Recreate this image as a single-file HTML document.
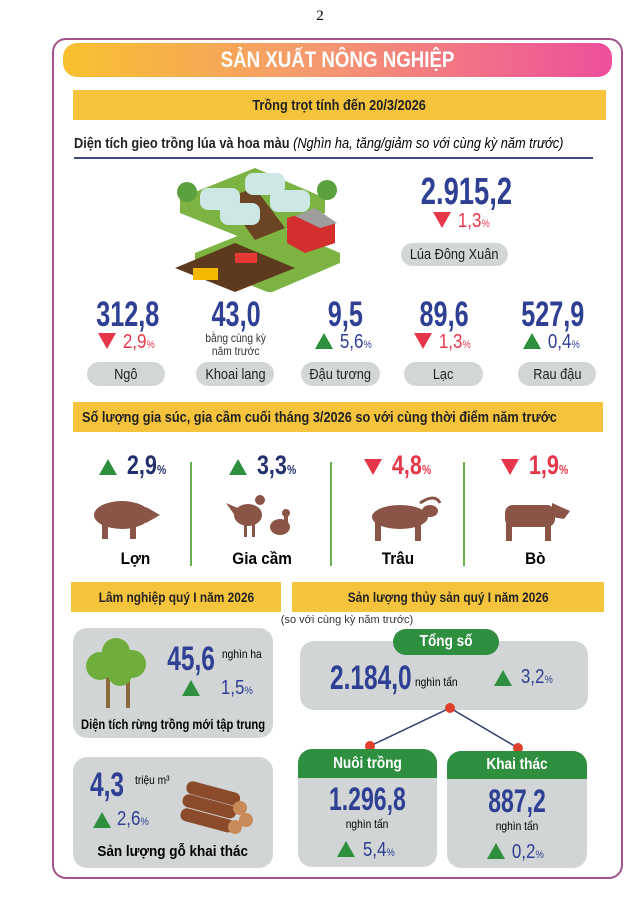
<!DOCTYPE html>
<html><head><meta charset="utf-8"><style>
*{margin:0;padding:0;box-sizing:border-box}
body{width:640px;height:905px;background:#fff;position:relative;overflow:hidden;font-family:"Liberation Sans",sans-serif}
.a{position:absolute}
.c{position:absolute;text-align:center;white-space:nowrap}
.num{font-weight:bold;color:#2e3f94;display:inline-block;transform:scaleX(.72);transform-origin:center}
.bar{position:absolute;background:#f6c43c;display:flex;align-items:center;justify-content:center;font-weight:bold;color:#222;font-size:15px}
.bar span{display:inline-block;transform:scaleX(.85);white-space:nowrap}
.pill{position:absolute;background:#d2d6d6;border-radius:13px;display:flex;align-items:center;justify-content:center;font-size:15px;color:#222}
.pill span{display:inline-block;transform:scaleX(.85)}
.box{position:absolute;background:#d1d5d5;border-radius:14px}
.up{display:inline-block;width:0;height:0;border-left:9px solid transparent;border-right:9px solid transparent;border-bottom:16px solid #2e8f3f;vertical-align:-1px}
.dn{display:inline-block;width:0;height:0;border-left:9px solid transparent;border-right:9px solid transparent;border-top:16px solid #e6374a;vertical-align:-1px}
.pct{font-size:20px;display:inline-block;transform:scaleX(.85)}
.pct small{font-size:11px}
.b{color:#2e3f94}.r{color:#e6374a}
.gh{position:absolute;background:#2e8f3f;color:#fff;font-weight:bold;display:flex;align-items:center;justify-content:center;font-size:16px}
</style></head><body>
<div class="c" style="left:300px;top:8px;width:40px;font-family:'Liberation Serif',serif;font-size:15px">2</div>
<div class="a" style="left:52px;top:38px;width:571px;height:841px;border:2px solid #a0528a;border-radius:14px"></div>
<div class="a" style="left:63px;top:43px;width:549px;height:34px;border-radius:14px;background:linear-gradient(90deg,#f8c12e,#f59a6e 45%,#ee4f9c);display:flex;align-items:center;justify-content:center;color:#fff;font-weight:bold;font-size:22px"><span style="display:inline-block;transform:scaleX(.85)">SẢN XUẤT NÔNG NGHIỆP</span></div>
<div class="bar" style="left:73px;top:90px;width:533px;height:30px"><span>Trồng trọt tính đến 20/3/2026</span></div>
<div class="a" style="left:74px;top:136px;font-size:14.5px;white-space:nowrap;transform:scaleX(.88);transform-origin:left"><b style="font-weight:bold;color:#222">Diện tích gieo trồng lúa và hoa màu</b> <i>(Nghìn ha, tăng/giảm so với cùng kỳ năm trước)</i></div>
<div class="a" style="left:74px;top:157px;width:519px;height:2px;background:#3e4e7a"></div>
<svg class="a" style="left:175px;top:168px" width="172" height="124" viewBox="0 0 172 124">
<polygon points="5,30 80,0 150,30 150,45 80,75 5,45" fill="#7cb342"/>
<polygon points="20,85 95,55 165,85 165,95 95,125 20,95" fill="#7cb342"/>
<polygon points="0,100 60,75 120,100 60,124" fill="#5d3a1e"/>
<polygon points="50,30 80,20 110,60 80,72" fill="#6b4423"/>
<rect x="25" y="20" width="40" height="22" rx="8" fill="#cde8e4"/><rect x="70" y="5" width="40" height="22" rx="8" fill="#cde8e4"/>
<rect x="45" y="35" width="40" height="22" rx="8" fill="#cde8e4"/><rect x="95" y="22" width="40" height="22" rx="8" fill="#cde8e4"/>
<circle cx="12" cy="24" r="10" fill="#5aa13e"/><circle cx="152" cy="22" r="10" fill="#5aa13e"/>
<polygon points="112,50 140,42 160,55 160,75 130,85 112,75" fill="#d32f2f"/><polygon points="120,48 140,40 162,55 145,60" fill="#9e9e9e"/>
<rect x="18" y="100" width="25" height="12" fill="#f5b800"/><rect x="60" y="85" width="22" height="10" fill="#e53935"/>
</svg>
<div class="c" style="left:403px;top:172px;width:120px;font-size:38px;line-height:40px"><span class="num">2.915,2</span></div>
<div class="c" style="left:413px;top:210px;width:100px"><span class="dn"></span> <span class="pct r">1,3<small>%</small></span></div>
<div class="pill" style="left:401px;top:243px;width:107px;height:23px"><span>Lúa Đông Xuân</span></div>
<div class="c" style="left:78px;top:297px;width:100px;font-size:35px;line-height:36px"><span class="num">312,8</span></div>
<div class="c" style="left:186px;top:297px;width:100px;font-size:35px;line-height:36px"><span class="num">43,0</span></div>
<div class="c" style="left:295px;top:297px;width:100px;font-size:35px;line-height:36px"><span class="num">9,5</span></div>
<div class="c" style="left:394px;top:297px;width:100px;font-size:35px;line-height:36px"><span class="num">89,6</span></div>
<div class="c" style="left:503px;top:297px;width:100px;font-size:35px;line-height:36px"><span class="num">527,9</span></div>
<div class="c" style="left:78px;top:331px;width:100px"><span class="dn"></span> <span class="pct r">2,9<small>%</small></span></div>
<div class="c" style="left:186px;top:332px;width:100px;font-size:12px;line-height:13px;color:#333"><span style="display:inline-block;transform:scaleX(.85)">bằng cùng kỳ<br>năm trước</span></div>
<div class="c" style="left:295px;top:331px;width:100px"><span class="up"></span> <span class="pct b">5,6<small>%</small></span></div>
<div class="c" style="left:394px;top:331px;width:100px"><span class="dn"></span> <span class="pct r">1,3<small>%</small></span></div>
<div class="c" style="left:503px;top:331px;width:100px"><span class="up"></span> <span class="pct b">0,4<small>%</small></span></div>
<div class="pill" style="left:87px;top:362px;width:78px;height:24px"><span>Ngô</span></div>
<div class="pill" style="left:196px;top:362px;width:78px;height:24px"><span>Khoai lang</span></div>
<div class="pill" style="left:301px;top:362px;width:79px;height:24px"><span>Đậu tương</span></div>
<div class="pill" style="left:404px;top:362px;width:79px;height:24px"><span>Lạc</span></div>
<div class="pill" style="left:518px;top:362px;width:78px;height:24px"><span>Rau đậu</span></div>
<div class="bar" style="left:73px;top:402px;width:530px;height:30px;justify-content:flex-start;padding-left:9px"><span style="transform-origin:left">Số lượng gia súc, gia cầm cuối tháng 3/2026 so với cùng thời điểm năm trước</span></div>
<div class="a" style="left:190px;top:462px;width:2px;height:104px;background:#6ab04c"></div>
<div class="a" style="left:330px;top:462px;width:2px;height:104px;background:#6ab04c"></div>
<div class="a" style="left:463px;top:462px;width:2px;height:104px;background:#6ab04c"></div>
<div class="c" style="left:85px;top:450px;width:100px"><span class="up"></span> <span class="num" style="font-size:27px;color:#24306e;transform:scaleX(.8)">2,9<small style="font-size:13px">%</small></span></div>
<div class="c" style="left:215px;top:450px;width:100px"><span class="up"></span> <span class="num" style="font-size:27px;color:#24306e;transform:scaleX(.8)">3,3<small style="font-size:13px">%</small></span></div>
<div class="c" style="left:350px;top:450px;width:100px"><span class="dn"></span> <span class="num" style="font-size:27px;color:#e6374a;transform:scaleX(.8)">4,8<small style="font-size:13px">%</small></span></div>
<div class="c" style="left:487px;top:450px;width:100px"><span class="dn"></span> <span class="num" style="font-size:27px;color:#e6374a;transform:scaleX(.8)">1,9<small style="font-size:13px">%</small></span></div>
<svg class="a" style="left:90px;top:495px" width="480" height="48" viewBox="0 0 480 48">
<g fill="#8a5446">
<ellipse cx="32" cy="20" rx="28" ry="14"/><rect x="12" y="26" width="6" height="18"/><rect x="40" y="26" width="6" height="18"/><polygon points="56,12 70,20 56,28"/>
<ellipse cx="158" cy="20" rx="14" ry="11"/><circle cx="170" cy="5" r="5"/><polygon points="136,8 150,14 146,22"/><rect x="154" y="28" width="3" height="14"/><rect x="162" y="28" width="3" height="14"/>
<ellipse cx="190" cy="32" rx="10" ry="8"/><circle cx="196" cy="18" r="4"/><rect x="194" y="18" width="4" height="10"/>
<ellipse cx="310" cy="22" rx="28" ry="12"/><rect x="285" y="26" width="6" height="20"/><rect x="325" y="26" width="6" height="20"/><ellipse cx="340" cy="16" rx="8" ry="6"/><path d="M330,8 Q345,-2 350,8" stroke="#8a5446" stroke-width="3" fill="none"/>
<rect x="415" y="10" width="50" height="22" rx="8"/><rect x="416" y="26" width="6" height="20"/><rect x="455" y="26" width="6" height="20"/><polygon points="462,8 480,16 474,24 462,22"/>
</g></svg>
<div class="c" style="left:85px;top:549px;width:100px;font-size:17px;font-weight:bold"><span style="display:inline-block;transform:scaleX(.9)">Lợn</span></div>
<div class="c" style="left:212px;top:549px;width:100px;font-size:17px;font-weight:bold"><span style="display:inline-block;transform:scaleX(.9)">Gia cầm</span></div>
<div class="c" style="left:348px;top:549px;width:100px;font-size:17px;font-weight:bold"><span style="display:inline-block;transform:scaleX(.9)">Trâu</span></div>
<div class="c" style="left:485px;top:549px;width:100px;font-size:17px;font-weight:bold"><span style="display:inline-block;transform:scaleX(.9)">Bò</span></div>
<div class="bar" style="left:71px;top:582px;width:210px;height:30px;font-size:14px"><span>Lâm nghiệp quý I năm 2026</span></div>
<div class="bar" style="left:292px;top:582px;width:312px;height:30px;font-size:14px"><span>Sản lượng thủy sản quý I năm 2026</span></div>
<div class="c" style="left:267px;top:614px;width:160px;font-size:11px;color:#333">(so với cùng kỳ năm trước)</div>
<div class="box" style="left:73px;top:628px;width:200px;height:110px"></div>
<svg class="a" style="left:80px;top:638px" width="72" height="70"><g fill="#8a6a3a"><rect x="26" y="30" width="4" height="40"/><rect x="46" y="30" width="4" height="40"/></g><g fill="#6fae3d"><circle cx="20" cy="28" r="14"/><circle cx="36" cy="14" r="14"/><circle cx="52" cy="26" r="14"/><circle cx="40" cy="36" r="12"/></g></svg>
<div class="c" style="left:158px;top:640px;width:60px;font-size:34px;line-height:38px"><span class="num">45,6</span></div>
<div class="a" style="left:222px;top:647px;font-size:12px;transform:scaleX(.85);transform-origin:left">nghìn ha</div>
<div class="a" style="left:182px;top:680px"><span class="up"></span></div>
<div class="a" style="left:218px;top:677px"><span class="pct b">1,5<small>%</small></span></div>
<div class="c" style="left:13px;top:716px;width:320px;font-size:14px;font-weight:bold"><span style="display:inline-block;transform:scaleX(.8)">Diện tích rừng trồng mới tập trung</span></div>
<div class="box" style="left:73px;top:757px;width:200px;height:111px"></div>
<div class="a" style="left:90px;top:766px;font-size:34px;line-height:38px"><span class="num" style="transform-origin:left">4,3</span></div>
<div class="a" style="left:135px;top:773px;font-size:12px;transform:scaleX(.85);transform-origin:left">triệu m³</div>
<div class="a" style="left:93px;top:812px"><span class="up"></span></div>
<div class="a" style="left:114px;top:808px"><span class="pct b">2,6<small>%</small></span></div>
<svg class="a" style="left:180px;top:780px" width="75" height="55"><g fill="#8b4a2a"><rect x="6" y="6" width="55" height="13" rx="6" transform="rotate(15 30 12)"/><rect x="2" y="20" width="55" height="13" rx="6" transform="rotate(15 30 26)"/><rect x="0" y="34" width="55" height="13" rx="6" transform="rotate(15 28 40)"/></g><g fill="#c98a5a"><circle cx="60" cy="28" r="7"/><circle cx="66" cy="40" r="7"/><circle cx="55" cy="47" r="7"/></g></svg>
<div class="c" style="left:13px;top:843px;width:320px;font-size:15px;font-weight:bold"><span style="display:inline-block;transform:scaleX(.9)">Sản lượng gỗ khai thác</span></div>
<div class="box" style="left:300px;top:641px;width:288px;height:69px"></div>
<div class="gh" style="left:393px;top:629px;width:106px;height:26px;border-radius:13px"><span style="display:inline-block;transform:scaleX(.85)">Tổng số</span></div>
<div class="a" style="left:330px;top:659px;font-size:34px;line-height:38px"><span class="num" style="transform-origin:left">2.184,0</span></div>
<div class="a" style="left:415px;top:675px;font-size:12px;transform:scaleX(.85);transform-origin:left">nghìn tấn</div>
<div class="a" style="left:494px;top:670px"><span class="up"></span></div>
<div class="a" style="left:518px;top:666px"><span class="pct b">3,2<small>%</small></span></div>
<svg class="a" style="left:360px;top:700px" width="170" height="55"><path d="M10,46 L90,8 L158,48" stroke="#2e3f6e" stroke-width="1.5" fill="none"/><circle cx="90" cy="8" r="5" fill="#e0402a"/><circle cx="10" cy="46" r="5" fill="#e0402a"/><circle cx="158" cy="48" r="5" fill="#e0402a"/></svg>
<div class="box" style="left:298px;top:749px;width:139px;height:118px;overflow:hidden"><div class="gh" style="left:0;top:0;width:139px;height:29px"><span style="display:inline-block;transform:scaleX(.85)">Nuôi trồng</span></div></div>
<div class="box" style="left:447px;top:751px;width:140px;height:117px;overflow:hidden"><div class="gh" style="left:0;top:0;width:140px;height:28px"><span style="display:inline-block;transform:scaleX(.85)">Khai thác</span></div></div>
<div class="c" style="left:298px;top:781px;width:139px;font-size:32px;line-height:36px"><span class="num">1.296,8</span></div>
<div class="c" style="left:447px;top:783px;width:140px;font-size:32px;line-height:36px"><span class="num">887,2</span></div>
<div class="c" style="left:298px;top:817px;width:139px;font-size:12px"><span style="display:inline-block;transform:scaleX(.85)">nghìn tấn</span></div>
<div class="c" style="left:447px;top:819px;width:140px;font-size:12px"><span style="display:inline-block;transform:scaleX(.85)">nghìn tấn</span></div>
<div class="c" style="left:298px;top:839px;width:139px"><span class="up"></span> <span class="pct b">5,4<small>%</small></span></div>
<div class="c" style="left:447px;top:841px;width:140px"><span class="up"></span> <span class="pct b">0,2<small>%</small></span></div>
</body></html>
